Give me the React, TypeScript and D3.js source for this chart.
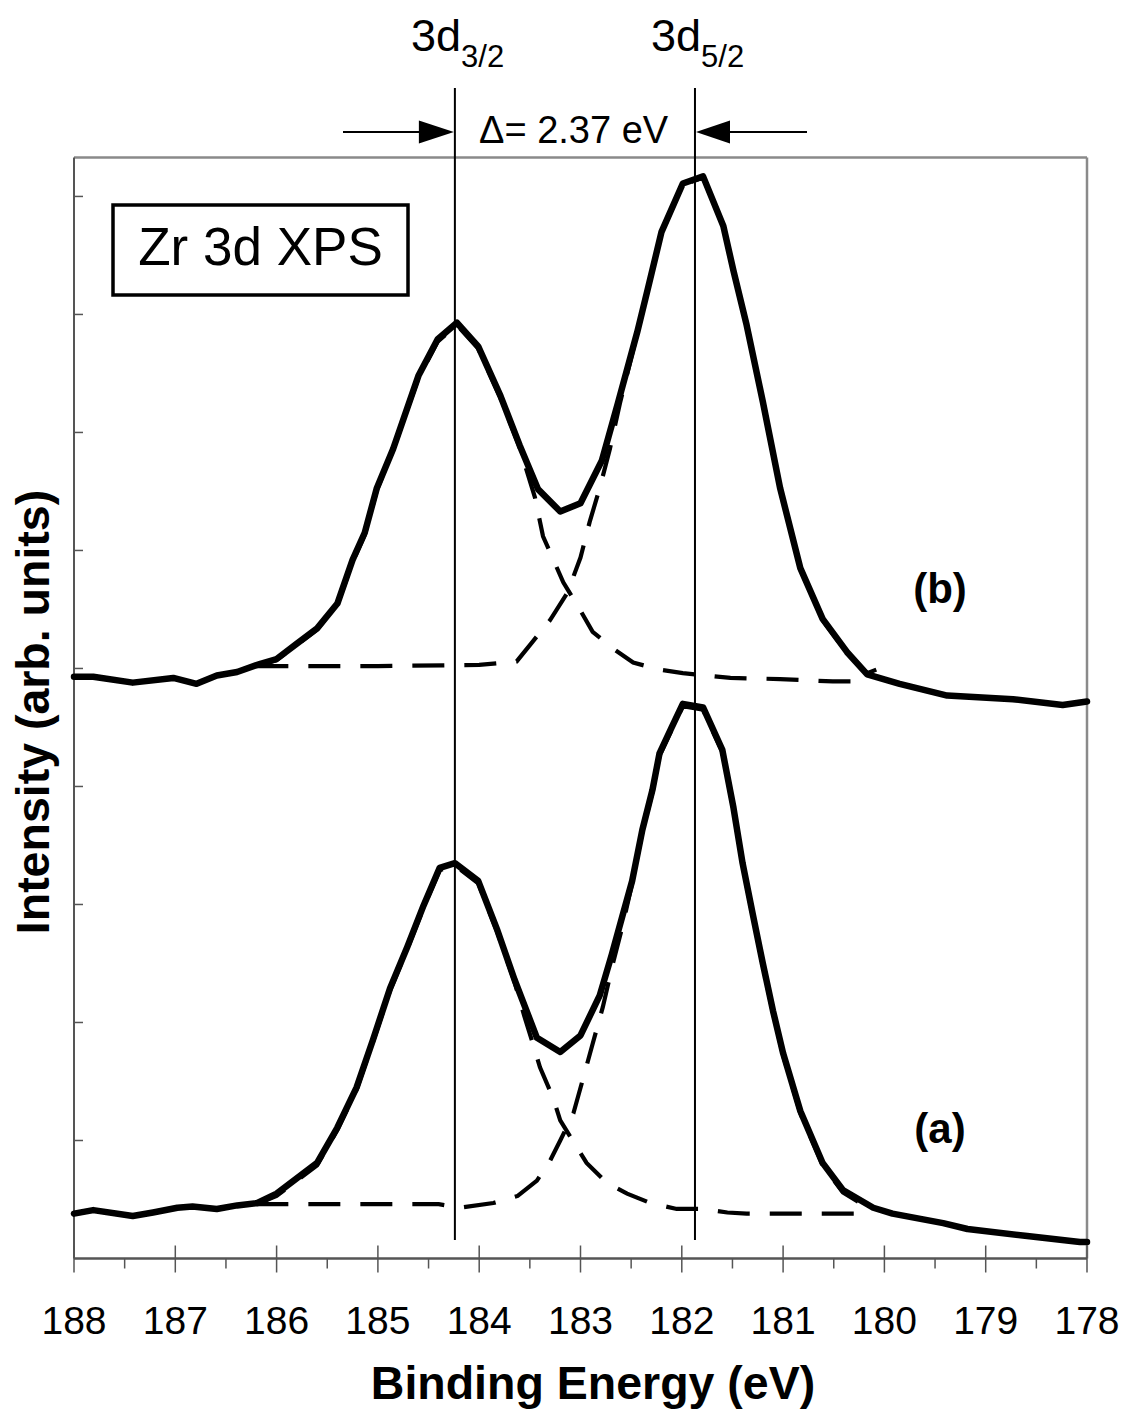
import React from "react";
import * as d3 from "d3";

// ---------- data (binding energy eV, intensity arb. units) ----------
const xTicks = [188, 187, 186, 185, 184, 183, 182, 181, 180, 179, 178];
const yTicks = [1, 2, 3, 4, 5, 6, 7, 8, 9];
const peak32 = 184.24;
const peak52 = 181.87;
const deltaLabel = "\u0394= 2.37 eV";

const curveB: [number, number][] = [
  [188.0, 4.93], [187.81, 4.93], [187.42, 4.88], [187.02, 4.92], [186.79, 4.87],
  [186.59, 4.94], [186.39, 4.97], [186.16, 5.04], [186.0, 5.08], [185.8, 5.21],
  [185.6, 5.34], [185.4, 5.55], [185.25, 5.92], [185.13, 6.15], [185.01, 6.53],
  [184.85, 6.86], [184.6, 7.48], [184.41, 7.79], [184.22, 7.93], [184.01, 7.73],
  [183.79, 7.31], [183.6, 6.89], [183.42, 6.52], [183.2, 6.33], [183.0, 6.4],
  [182.79, 6.76], [182.63, 7.25], [182.44, 7.85], [182.34, 8.2], [182.2, 8.7],
  [181.99, 9.11], [181.79, 9.17], [181.59, 8.75], [181.49, 8.37], [181.36, 7.91],
  [181.2, 7.26], [181.03, 6.53], [180.83, 5.85], [180.61, 5.42], [180.37, 5.14],
  [180.17, 4.95], [179.85, 4.87], [179.38, 4.77], [178.73, 4.74], [178.24, 4.69],
  [178.0, 4.72],
];

const compB32: [number, number][] = [
  [186.2, 5.02], [186.0, 5.07], [185.8, 5.2], [185.6, 5.33], [185.4, 5.54],
  [185.25, 5.9], [185.13, 6.13], [185.01, 6.51], [184.85, 6.85], [184.6, 7.46],
  [184.41, 7.77], [184.22, 7.91], [184.01, 7.71], [183.79, 7.29], [183.6, 6.87],
  [183.45, 6.45], [183.37, 6.12], [183.17, 5.73], [183.0, 5.49], [182.88, 5.31],
  [182.68, 5.17], [182.48, 5.05], [182.22, 4.99], [181.99, 4.96], [181.52, 4.92],
  [181.03, 4.91], [180.51, 4.89], [180.24, 4.89],
];

const compB52: [number, number][] = [
  [186.2, 5.02], [185.0, 5.02], [184.0, 5.03], [183.63, 5.06], [183.47, 5.23],
  [183.3, 5.41], [183.13, 5.64], [183.0, 5.94], [182.91, 6.24], [182.81, 6.53],
  [182.71, 6.86], [182.61, 7.25], [182.44, 7.84], [182.34, 8.19], [182.2, 8.69],
  [181.99, 9.1], [181.79, 9.16], [181.59, 8.74], [181.49, 8.36], [181.36, 7.9],
  [181.2, 7.25], [181.03, 6.52], [180.83, 5.84], [180.61, 5.41], [180.37, 5.13],
  [180.17, 4.96], [180.08, 4.99],
];

const curveA: [number, number][] = [
  [188.0, 0.38], [187.81, 0.41], [187.42, 0.36], [187.22, 0.39], [186.98, 0.43],
  [186.83, 0.44], [186.59, 0.42], [186.39, 0.45], [186.19, 0.47], [186.0, 0.55],
  [185.6, 0.81], [185.4, 1.11], [185.21, 1.45], [185.05, 1.85], [184.88, 2.29],
  [184.71, 2.64], [184.55, 2.99], [184.39, 3.31], [184.24, 3.35], [184.01, 3.2],
  [183.82, 2.78], [183.65, 2.36], [183.43, 1.87], [183.2, 1.75], [183.0, 1.89],
  [182.81, 2.23], [182.69, 2.58], [182.59, 2.89], [182.49, 3.2], [182.39, 3.63],
  [182.29, 3.97], [182.22, 4.28], [182.1, 4.5], [181.99, 4.7], [181.79, 4.67],
  [181.6, 4.31], [181.49, 3.82], [181.4, 3.35], [181.3, 2.92], [181.2, 2.5],
  [181.1, 2.1], [181.0, 1.74], [180.83, 1.25], [180.61, 0.81], [180.41, 0.58],
  [180.11, 0.43], [179.92, 0.38], [179.42, 0.3], [179.18, 0.25], [178.59, 0.19],
  [178.07, 0.14], [178.0, 0.14],
];

const compA32: [number, number][] = [
  [186.2, 0.46], [186.0, 0.53], [185.6, 0.79], [185.4, 1.09], [185.21, 1.43],
  [185.05, 1.83], [184.88, 2.27], [184.71, 2.62], [184.55, 2.97], [184.39, 3.29],
  [184.24, 3.33], [184.01, 3.18], [183.82, 2.76], [183.65, 2.34], [183.55, 2.04],
  [183.47, 1.82], [183.4, 1.62], [183.27, 1.36], [183.2, 1.17], [183.1, 1.03],
  [182.94, 0.81], [182.74, 0.64], [182.54, 0.55], [182.31, 0.47], [182.05, 0.42],
  [181.79, 0.42], [181.55, 0.39], [181.36, 0.38], [180.24, 0.38],
];

const compA52: [number, number][] = [
  [186.2, 0.46], [185.0, 0.46], [184.4, 0.46], [184.19, 0.43], [183.86, 0.47],
  [183.62, 0.53], [183.43, 0.66], [183.3, 0.83], [183.2, 1.0], [183.07, 1.23],
  [182.96, 1.57], [182.88, 1.82], [182.78, 2.13], [182.68, 2.5], [182.59, 2.8],
  [182.49, 3.18], [182.39, 3.61], [182.29, 3.95], [182.22, 4.26], [182.1, 4.48],
  [181.99, 4.68], [181.79, 4.65], [181.6, 4.29], [181.49, 3.8], [181.4, 3.33],
  [181.3, 2.9], [181.2, 2.48], [181.1, 2.08], [181.0, 1.72], [180.83, 1.23],
  [180.61, 0.79], [180.41, 0.56], [180.2, 0.45],
];

// ---------- layout ----------
const W = 1126;
const H = 1412;
const FONT = "'Liberation Sans', Arial, Helvetica, sans-serif";

export default function App() {
  const x = d3.scaleLinear().domain([188, 178]).range([74, 1087]);
  const y = d3.scaleLinear().domain([0, 9.33]).range([1258.5, 157.5]);
  const line = d3
    .line<[number, number]>()
    .x((d) => x(d[0]))
    .y((d) => y(d[1]));

  const left = x(188);
  const right = x(178);
  const top = y(9.33);
  const bottom = y(0);
  const minor = d3.range(187.5, 178, -1);

  const xl = x(peak32);
  const xr = x(peak52);
  const ay = 132;

  const dashed = { fill: "none", stroke: "#000", strokeWidth: 4.2, strokeDasharray: "32 20" } as const;
  const solid = { fill: "none", stroke: "#000", strokeWidth: 6.5, strokeLinejoin: "round" as const, strokeLinecap: "round" as const };

  return (
    <svg
      width={W}
      height={H}
      viewBox={`0 0 ${W} ${H}`}
      style={{ position: "absolute", left: 0, top: 0, display: "block", background: "#fff" }}
      fontFamily={FONT}
    >
      <rect x={0} y={0} width={W} height={H} fill="#fff" />

      {/* frame */}
      <line x1={left} y1={top} x2={right} y2={top} stroke="#8a8a8a" strokeWidth={2.5} />
      <line x1={right} y1={top} x2={right} y2={bottom} stroke="#8a8a8a" strokeWidth={2.5} />
      <line x1={left} y1={top} x2={left} y2={bottom} stroke="#555" strokeWidth={2} />
      <line x1={left} y1={bottom} x2={right} y2={bottom} stroke="#555" strokeWidth={2.5} />

      {/* y ticks (inward) */}
      {yTicks.map((v) => (
        <line key={"yt" + v} x1={left} x2={left + 9} y1={y(v)} y2={y(v)} stroke="#555" strokeWidth={1.5} />
      ))}

      {/* x ticks */}
      {xTicks.map((v) => (
        <line key={"xt" + v} x1={x(v)} x2={x(v)} y1={bottom - 13} y2={bottom + 14} stroke="#555" strokeWidth={1.5} />
      ))}
      {minor.map((v) => (
        <line key={"xm" + v} x1={x(v)} x2={x(v)} y1={bottom} y2={bottom + 10} stroke="#555" strokeWidth={1.5} />
      ))}
      {xTicks.map((v) => (
        <text key={"xl" + v} x={x(v)} y={1334} fontSize={39} textAnchor="middle" fill="#000">
          {v}
        </text>
      ))}

      {/* axis titles */}
      <text x={593} y={1399} fontSize={46.5} fontWeight="bold" textAnchor="middle" fill="#000">
        Binding Energy (eV)
      </text>
      <text
        transform="translate(49,712) rotate(-90)"
        fontSize={46.5}
        fontWeight="bold"
        textAnchor="middle"
        fill="#000"
      >
        Intensity (arb. units)
      </text>

      {/* fitted components */}
      <path d={line(compB32) || ""} {...dashed} />
      <path d={line(compB52) || ""} {...dashed} />
      <path d={line(compA32) || ""} {...dashed} />
      <path d={line(compA52) || ""} {...dashed} />

      {/* measured spectra */}
      <path d={line(curveB) || ""} {...solid} />
      <path d={line(curveA) || ""} {...solid} />

      {/* peak position lines */}
      <line x1={xl} x2={xl} y1={88} y2={1240} stroke="#000" strokeWidth={2} />
      <line x1={xr} x2={xr} y1={88} y2={1240} stroke="#000" strokeWidth={2} />

      {/* arrows */}
      <line x1={343} x2={xl - 30} y1={ay} y2={ay} stroke="#000" strokeWidth={2} />
      <polygon points={`${xl - 1},${ay} ${xl - 36},${ay - 11.5} ${xl - 36},${ay + 11.5}`} fill="#000" />
      <line x1={xr + 30} x2={807} y1={ay} y2={ay} stroke="#000" strokeWidth={2} />
      <polygon points={`${xr + 1},${ay} ${xr + 35},${ay - 11.5} ${xr + 35},${ay + 11.5}`} fill="#000" />
      <text x={479} y={143} fontSize={38} fill="#000">
        {deltaLabel}
      </text>

      {/* peak labels */}
      <text x={411} y={51} fontSize={45} fill="#000">
        3d
        <tspan fontSize={31} dy={16}>
          3/2
        </tspan>
      </text>
      <text x={651} y={51} fontSize={45} fill="#000">
        3d
        <tspan fontSize={31} dy={16}>
          5/2
        </tspan>
      </text>

      {/* legend box */}
      <rect x={113} y={205} width={295} height={90} fill="#fff" stroke="#000" strokeWidth={3.5} />
      <text x={260.5} y={265} fontSize={53} textAnchor="middle" fill="#000">
        Zr 3d XPS
      </text>

      {/* spectrum labels */}
      <text x={940} y={603} fontSize={42} fontWeight="bold" textAnchor="middle" fill="#000">
        (b)
      </text>
      <text x={940} y={1143} fontSize={42} fontWeight="bold" textAnchor="middle" fill="#000">
        (a)
      </text>
    </svg>
  );
}
